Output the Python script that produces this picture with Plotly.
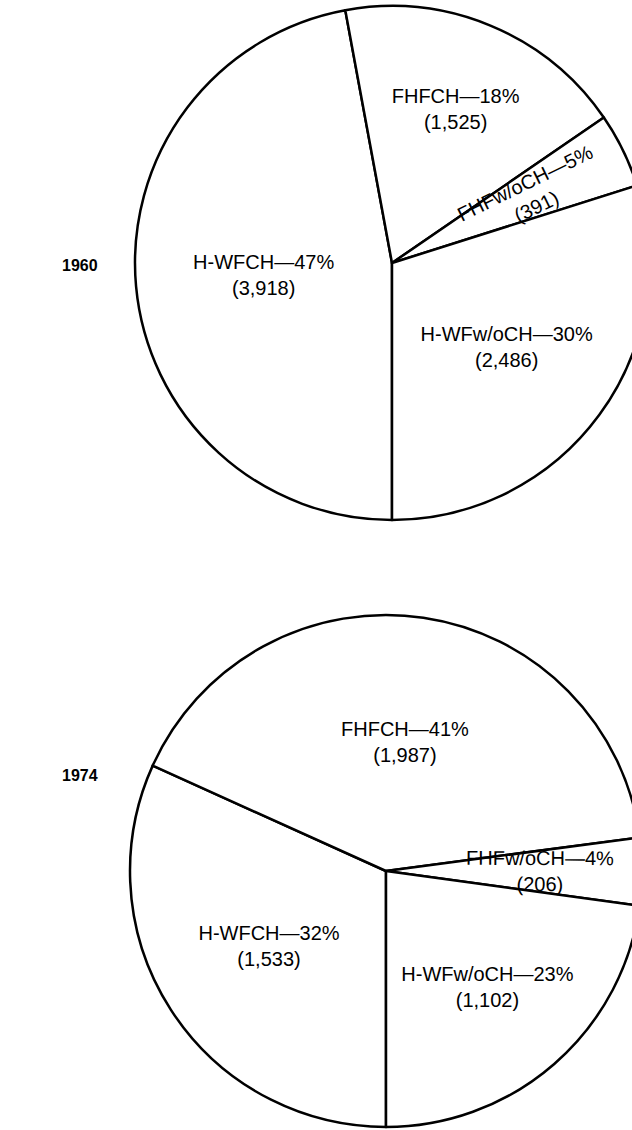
import math
import plotly.graph_objects as go

# ---- data ----
categories = ["H-WFCH", "FHFCH", "FHFw/oCH", "H-WFw/oCH"]
values_1960 = [3918, 1525, 391, 2486]
values_1974 = [1533, 1987, 206, 1102]
years = ["1960", "1974"]
small_slice = 2  # index of the thin slice whose label is set along its radius

W, H = 660, 1130
FONT = "Liberation Sans, Arial, Helvetica, sans-serif"
FS = 20
ROT = 180

def dom_x(cx, r):
    return [(cx - r) / W, (cx + r) / W]

def dom_y(cy, r):
    return [1 - (cy + r) / H, 1 - (cy - r) / H]

fig = go.Figure()
pies = [
    (values_1960, 392, 263, 257),
    (values_1974, 386, 871, 256),
]
for vals, cx, cy, r in pies:
    total = sum(vals)
    templates = ["%{label}—%{percent:.0%}<br>(%{value:,})"] * len(vals)
    templates[small_slice] = ""
    fig.add_trace(go.Pie(
        labels=categories,
        values=vals,
        sort=False,
        direction="clockwise",
        rotation=ROT,
        domain=dict(x=dom_x(cx, r), y=dom_y(cy, r)),
        marker=dict(colors=["white"] * len(vals), line=dict(color="black", width=2.5)),
        texttemplate=templates,
        textposition="inside",
        insidetextorientation="horizontal",
        textfont=dict(family=FONT, size=FS, color="black"),
        hoverinfo="skip",
        showlegend=False,
    ))
    # radial label for the thin slice, placed on its bisector
    before = sum(vals[:small_slice])
    theta = ROT + 360.0 * (before + vals[small_slice] / 2.0) / total
    rho = 0.6 * r
    px = cx + rho * math.sin(math.radians(theta))
    py = cy - rho * math.cos(math.radians(theta))
    pct = round(100.0 * vals[small_slice] / total)
    fig.add_annotation(
        text="%s—%d%%<br>(%s)" % (categories[small_slice], pct, format(vals[small_slice], ",")),
        x=px / W, y=1 - py / H, xref="paper", yref="paper",
        xanchor="center", yanchor="middle", showarrow=False,
        textangle=((theta - 90) % 360) - (360 if ((theta - 90) % 360) > 180 else 0),
        font=dict(family=FONT, size=FS, color="black"),
    )

for yr, cy in zip(years, [265, 775]):
    fig.add_annotation(
        text="<b>%s</b>" % yr, x=80 / W, y=1 - cy / H,
        xref="paper", yref="paper", xanchor="center", yanchor="middle",
        showarrow=False,
        font=dict(family=FONT, size=16, color="black"),
    )

fig.update_layout(
    width=W, height=H,
    margin=dict(l=0, r=0, t=0, b=0),
    paper_bgcolor="white", plot_bgcolor="white",
    uniformtext=dict(minsize=FS, mode="show"),
)

fig.write_html(
    "out.html",
    config={"displayModeBar": False},
    post_script="document.body.style.margin='0';document.body.style.overflow='hidden';",
)
